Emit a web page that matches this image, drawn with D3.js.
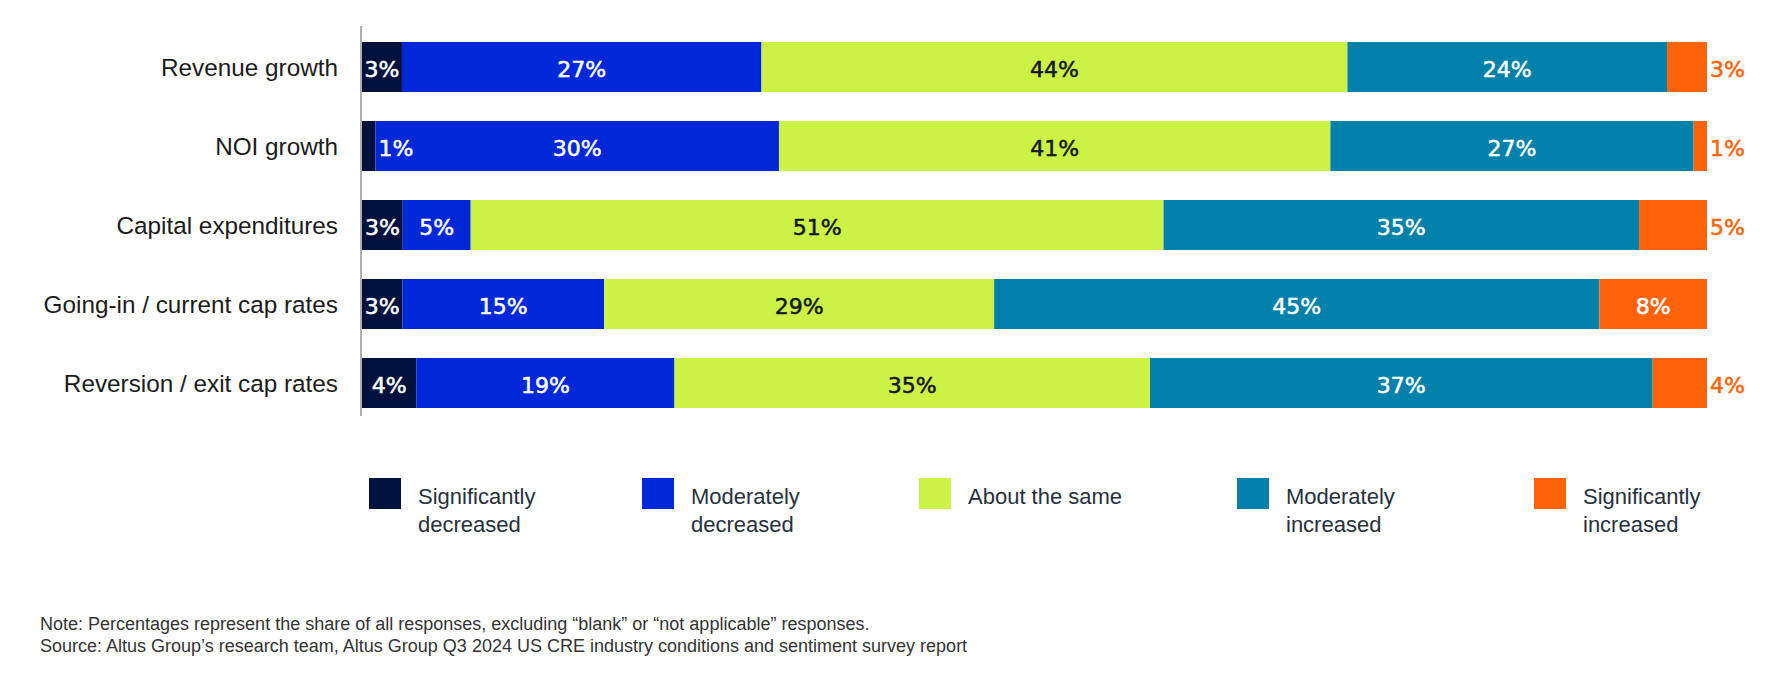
<!DOCTYPE html>
<html>
<head>
<meta charset="utf-8">
<script src="https://cdn.jsdelivr.net/npm/d3@7"></script>
<style>
  html, body { margin: 0; padding: 0; background: #ffffff; }
  svg { display: block; }
</style>
</head>
<body>
<svg id="chart" width="1783" height="681"></svg>
<script>
// ---- data ----
const categories = [
  "Revenue growth",
  "NOI growth",
  "Capital expenditures",
  "Going-in / current cap rates",
  "Reversion / exit cap rates"
];
const seriesNames = [
  "Significantly decreased",
  "Moderately decreased",
  "About the same",
  "Moderately increased",
  "Significantly increased"
];
const legendLines = [
  ["Significantly", "decreased"],
  ["Moderately", "decreased"],
  ["About the same"],
  ["Moderately", "increased"],
  ["Significantly", "increased"]
];
const sigDecreased = [3, 1, 3, 3, 4];
const modDecreased = [27, 30, 5, 15, 19];
const aboutSame    = [44, 41, 51, 29, 35];
const modIncreased = [24, 27, 35, 45, 37];
const sigIncreased = [3, 1, 5, 8, 4];
const noteLines = [
  "Note: Percentages represent the share of all responses, excluding \u201cblank\u201d or \u201cnot applicable\u201d responses.",
  "Source: Altus Group\u2019s research team, Altus Group Q3 2024 US CRE industry conditions and sentiment survey report"
];

// ---- style / layout ----
const colors = ["#00113d", "#0027d8", "#ccf246", "#0081aa", "#ff6309"];
const catFont = "'Liberation Sans', Arial, sans-serif";
const valFont = "'DejaVu Sans', sans-serif";
const legendX = [369, 642, 919, 1237, 1534];

const svg = d3.select("#chart");
const seriesValues = [sigDecreased, modDecreased, aboutSame, modIncreased, sigIncreased];

const rows = categories.map((c, i) => {
  const vals = seriesValues.map(s => s[i]);
  const total = d3.sum(vals);
  let cum = 0;
  const segs = vals.map((v, k) => {
    const s = { cat: c, k, v, x0: cum / total, x1: (cum + v) / total };
    cum += v;
    return s;
  });
  return { cat: c, segs };
});

const x = d3.scaleLinear().domain([0, 1]).range([362, 1707]);
const y = d3.scaleBand().domain(categories).range([42, 408]).paddingInner(0.367).paddingOuter(0);

// bars
const rowG = svg.append("g").selectAll("g").data(rows).join("g");
rowG.selectAll("rect").data(d => d.segs).join("rect")
  .attr("x", d => x(d.x0))
  .attr("y", d => y(d.cat))
  .attr("width", d => x(d.x1) - x(d.x0))
  .attr("height", y.bandwidth())
  .attr("fill", d => colors[d.k]);

// category axis
const yAxis = d3.axisLeft(y).tickSize(0).tickPadding(23);
const axG = svg.append("g").attr("transform", "translate(361,0)").call(yAxis);
axG.select(".domain").remove();
axG.append("line").attr("x1", 0).attr("x2", 0).attr("y1", 26).attr("y2", 416)
  .attr("stroke", "#7a7a7a").attr("stroke-width", 1.2);
axG.selectAll(".tick text")
  .attr("font-family", catFont)
  .attr("font-size", 24.3)
  .attr("fill", "#1b1b1b")
  .attr("dy", "0.36em");

// value labels
const lab = rowG.selectAll("text.val").data(d => d.segs).join("text")
  .attr("class", "val")
  .attr("font-family", valFont)
  .attr("font-size", 22)
  .attr("y", d => y(d.cat) + y.bandwidth() / 2 + 2)
  .attr("dy", "0.36em")
  .text(d => d.v + "%");
lab.each(function(d) {
  const t = d3.select(this);
  const w = this.getComputedTextLength();
  const segW = x(d.x1) - x(d.x0);
  const inside = d.k === 4 ? segW >= w * 2.5 : segW >= w + 4;
  let fill;
  if (inside) {
    t.attr("x", (x(d.x0) + x(d.x1)) / 2).attr("text-anchor", "middle");
    fill = d.k === 2 ? "#15172a" : "#ffffff";
  } else {
    t.attr("x", x(d.x1) + 3).attr("text-anchor", "start");
    fill = d.k === 4 ? colors[4] : "#ffffff";
  }
  t.attr("fill", fill).attr("stroke", fill).attr("stroke-width", 0.55);
});

// legend
const lg = svg.append("g").selectAll("g").data(seriesNames).join("g")
  .attr("transform", (d, i) => `translate(${legendX[i]},478)`);
lg.append("rect").attr("width", 32).attr("height", 31).attr("fill", (d, i) => colors[i]);
lg.append("text")
  .attr("font-family", catFont)
  .attr("font-size", 22)
  .attr("fill", "#27303d")
  .selectAll("tspan").data((d, i) => legendLines[i]).join("tspan")
  .attr("x", 49)
  .attr("y", (d, j) => 26 + j * 28)
  .text(d => d);

// footnote
svg.append("g").selectAll("text").data(noteLines).join("text")
  .attr("x", 40)
  .attr("y", (d, i) => 630 + i * 22)
  .attr("font-family", catFont)
  .attr("font-size", 18)
  .attr("fill", "#333333")
  .text(d => d);
</script>
</body>
</html>
